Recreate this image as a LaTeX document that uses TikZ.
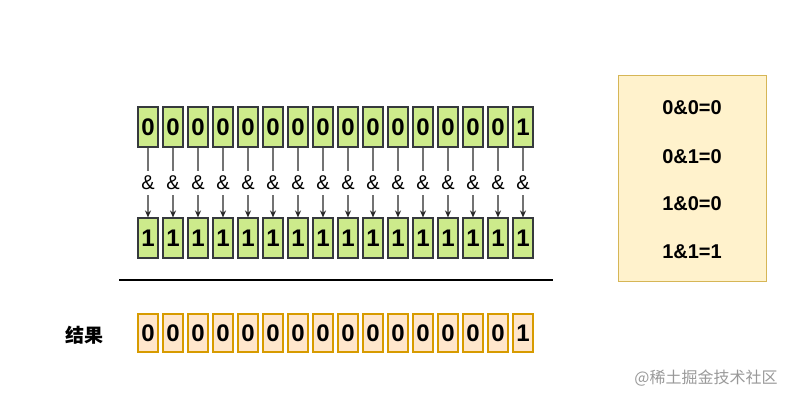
\documentclass[tikz,border=0pt]{standalone}
\usepackage{fontspec}
\setmainfont{Liberation Sans}
\newfontfamily\cjk{Noto Sans CJK SC}
\usetikzlibrary{arrows.meta,positioning,calc}
\definecolor{bitgreen}{RGB}{205,235,139}
\definecolor{bitedge}{RGB}{54,57,61}
\definecolor{respeach}{RGB}{255,230,204}
\definecolor{resedge}{RGB}{215,155,0}
\definecolor{notefill}{RGB}{255,242,204}
\definecolor{noteedge}{RGB}{214,182,86}

\begin{document}
\begin{tikzpicture}[x=1pt,y=-1pt,>=Stealth,
  bit/.style={rectangle,draw=bitedge,fill=bitgreen,line width=1.6pt,minimum width=20.5pt,minimum height=39.5pt,inner sep=0pt,text=black,font=\fontsize{24}{24}\selectfont\bfseries},
  res/.style={bit,draw=resedge,fill=respeach,minimum height=38.5pt},
  amp/.style={fill=white,text=black,inner sep=1pt,minimum height=24pt,font=\fontsize{20}{20}\selectfont},
  rule/.style={font=\fontsize{20}{20}\selectfont\bfseries}]
  \useasboundingbox (0,0) rectangle (794,401);
  % operand rows and result row
  \foreach \i in {0,...,15}{
    \pgfmathsetmacro{\xc}{148+25*\i}
    \ifnum\i=15 \def\topbit{1}\else\def\topbit{0}\fi
    \node[bit] (A\i) at (\xc,127) {\topbit};
    \node[bit] (B\i) at (\xc,238) {1};
    \node[res] (R\i) at (\xc,333) {\topbit};
    \draw[black!55,line width=1.5pt,-{Stealth[black!85,length=7pt,width=6pt]}] (A\i) -- node[amp]{\&} (B\i);
  }
  \draw[line width=2pt] (119,280) -- (553,280);
  \node[font=\cjk\fontsize{19}{19}\selectfont\bfseries] (L) at (84,335) {结果};
  % truth table
  \node[rectangle,draw=noteedge,fill=notefill,line width=1pt,minimum width=148pt,minimum height=206pt] (T) at (692.5,178.5) {};
  \node[rule] (T1) at (692,108) {0\&0=0};
  \node[rule] (T2) at (692,157) {0\&1=0};
  \node[rule] (T3) at (692,204) {1\&0=0};
  \node[rule] (T4) at (692,252) {1\&1=1};
  \node[text=black!40,font=\cjk\fontsize{16}{16}\selectfont] (W) at (706,378) {@稀土掘金技术社区};
\end{tikzpicture}
\end{document}
